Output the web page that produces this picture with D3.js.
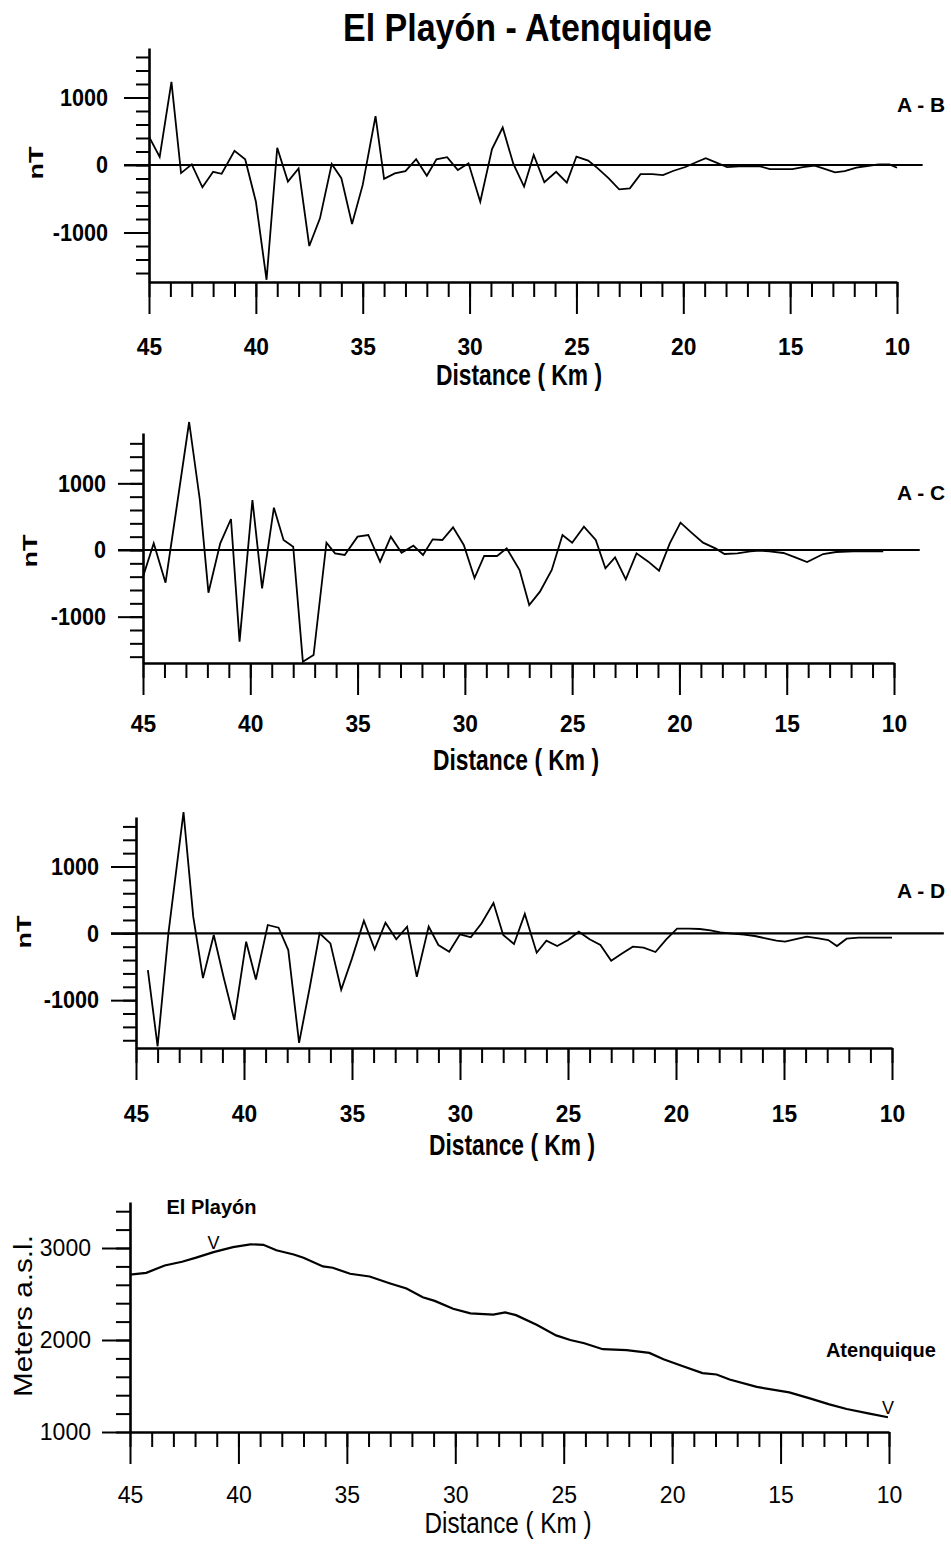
<!DOCTYPE html>
<html>
<head>
<meta charset="utf-8">
<script src="https://d3js.org/d3.v7.min.js"></script>
<style>
  body { margin: 0; background: #fff; }
  svg text { font-family: "Liberation Sans", Arial, sans-serif; fill: #000; }
</style>
</head>
<body>
<svg id="chart" width="951" height="1544"></svg>
<script>
// ---- data ----
const abDist = [45, 44.5, 43.95, 43.5, 43, 42.5, 42, 41.6, 41, 40.5, 40, 39.5, 39, 38.5, 38, 37.5, 37, 36.45, 36, 35.5,
  35, 34.4, 34, 33.5, 33, 32.5, 32, 31.55, 31.05, 30.55, 30.05, 29.5, 28.95, 28.45, 27.95, 27.45, 27, 26.5, 25.95, 25.45,
  25, 24.45, 24, 23.5, 23, 22.5, 22, 21.45, 20.95, 20.45, 19.9, 19.4, 18.95, 18.45, 17.95, 17.4, 16.9, 16.4, 15.95, 15.4,
  14.9, 14.4, 13.85, 13.35, 12.9, 12.45, 11.9, 11.4, 10.85, 10.35, 10];
const abNT = [420, 120, 1230, -120, 10, -330, -100, -130, 210, 85, -540, -1700, 255, -245, -50, -1200, -790, 15, -195, -875,
  -295, 725, -205, -125, -90, 85, -160, 85, 115, -75, 25, -545, 235, 555, 15, -320, 150, -255, -100, -260,
  125, 65, -50, -195, -360, -345, -135, -135, -150, -85, -30, 40, 100, 35, -30, -20, -20, -20, -60, -60,
  -60, -30, -10, -60, -110, -90, -40, -15, 10, 10, -40];

const acDist = [45, 44.5, 43.95, 43.45, 42.85, 42.35, 41.95, 41.4, 40.9, 40.5, 39.9, 39.45, 38.9, 38.45, 38, 37.55, 37.05, 36.45, 36.05, 35.6,
  35, 34.5, 33.95, 33.45, 32.95, 32.4, 31.95, 31.5, 31.05, 30.55, 30.05, 29.55, 29.1, 28.5, 28.05, 27.45, 27, 26.5, 25.95, 25.45,
  25, 24.45, 23.9, 23.45, 23, 22.5, 22, 21.45, 20.95, 20.45, 19.95, 19.4, 18.9, 18.3, 17.9, 17.3, 16.7, 16.25, 15.8, 15.15,
  14.6, 14.05, 13.3, 12.7, 11.9, 11.1, 10.5];
const acNT = [-400, 100, -490, 600, 1920, 750, -640, 100, 465, -1375, 750, -575, 635, 150, 50, -1675, -1575, 110, -50, -75,
  200, 225, -175, 200, -40, 65, -75, 160, 150, 340, 75, -420, -90, -90, 25, -300, -825, -625, -300, 225,
  110, 350, 150, -275, -110, -440, -50, -175, -310, 100, 410, 250, 110, 20, -60, -50, -20, -10, -20, -45,
  -110, -180, -60, -30, -20, -20, -20];

const adDist = [44.45, 44, 43.5, 42.8, 42.35, 41.9, 41.4, 40.95, 40.45, 39.9, 39.45, 38.9, 38.4, 37.95, 37.45, 36.95, 36.5, 36, 35.5, 35,
  34.45, 33.95, 33.45, 32.95, 32.45, 32, 31.45, 31, 30.5, 30, 29.5, 29, 28.45, 28, 27.5, 27, 26.45, 26, 25.5, 25,
  24.5, 24, 23.5, 23, 22.5, 22, 21.5, 20.95, 20.45, 19.95, 19.4, 18.9, 18.4, 17.95, 17.4, 16.85, 16.35, 15.85, 15.35, 14.95,
  14.5, 13.95, 13.4, 12.95, 12.55, 12.1, 11.55, 11, 10.45, 10];
const adNT = [-550, -1690, 0, 1815, 250, -670, -25, -650, -1295, -125, -690, 125, 85, -250, -1640, -800, 0, -150, -845, -375,
  190, -240, 160, -90, 100, -650, 100, -175, -275, -15, -60, 150, 455, -25, -160, 290, -290, -110, -190, -100,
  25, -90, -175, -410, -300, -200, -215, -280, -90, 70, 70, 65, 45, 15, -5, -20, -40, -75, -110, -125,
  -90, -50, -75, -100, -190, -80, -65, -65, -65, -65];

const elevDist = [45, 44.25, 43.4, 42.6, 41.95, 41.15, 40.25, 39.45, 38.85, 38.25, 37.45, 37, 36.1, 35.65, 34.85, 33.95, 33, 32.25, 31.5, 30.95,
  30.1, 29.3, 28.25, 27.7, 27.2, 26.25, 25.35, 24.7, 24.05, 23.2, 22.1, 21.05, 20.4, 19.5, 18.6, 17.95, 17.35, 16.1, 14.6, 13.65,
  12.75, 11.95, 10.9, 10.05];
const elevM = [2710, 2730, 2810, 2850, 2895, 2955, 3010, 3040, 3035, 2975, 2930, 2895, 2800, 2785, 2720, 2690, 2615, 2560, 2465, 2425,
  2340, 2290, 2275, 2300, 2270, 2165, 2050, 2000, 1965, 1900, 1890, 1860, 1790, 1715, 1640, 1625, 1570, 1490, 1430, 1365,
  1300, 1250, 1200, 1160];

const placeNames = ["El Playón", "Atenquique"];
const placeKm = [41.15, 10.05];
const placeElev = [2955, 1160];

const distTicks = [45, 40, 35, 30, 25, 20, 15, 10];
const distMinor = d3.range(10, 46, 1);
const nTTicks = [-1000, 0, 1000];
const nTMinor = d3.range(-1600, 1601, 200);
const elevTicks = [1000, 2000, 3000];
const elevMinor = d3.range(1000, 3401, 200);

const svg = d3.select("svg#chart");
svg.append("rect").attr("width", 951).attr("height", 1544).attr("fill", "#fff");

// title
svg.append("text")
  .attr("x", 343).attr("y", 41)
  .attr("textLength", 369).attr("lengthAdjust", "spacingAndGlyphs")
  .style("font-size", "38px").style("font-weight", "bold")
  .text("El Playón - Atenquique");

// plain hyphen for negatives, like the original
const fmt = d => String(d);

function drawFrame(x, y, o) {
  const g = svg.append("g");
  const yBase = y.range()[0];
  const xBase = x.range()[0];

  // minor ticks
  g.append("g").attr("transform", `translate(0,${yBase})`)
    .call(d3.axisBottom(x).tickValues(distMinor).tickSize(15).tickSizeOuter(0).tickFormat(""))
    .call(a => a.select(".domain").remove());
  g.append("g").attr("transform", `translate(${xBase},0)`)
    .call(d3.axisLeft(y).tickValues(o.yMinor).tickSize(o.minorLen).tickSizeOuter(0).tickFormat(""))
    .call(a => a.select(".domain").remove());

  // major ticks with labels
  const xa = g.append("g").attr("transform", `translate(0,${yBase})`)
    .call(d3.axisBottom(x).tickValues(distTicks).tickSize(32).tickSizeOuter(0).tickFormat(fmt));
  xa.selectAll("text")
    .attr("y", o.xLabTop).attr("dy", "0.71em")
    .attr("transform", `scale(${o.xk},1)`)
    .style("font-size", o.xFont + "px").style("font-weight", o.weight);

  const ya = g.append("g").attr("transform", `translate(${xBase},0)`)
    .call(d3.axisLeft(y).tickValues(o.yTicks).tickSize(o.majorLen).tickSizeOuter(0).tickFormat(fmt));
  ya.selectAll("text")
    .attr("x", -o.yGap / o.yk)
    .attr("transform", `scale(${o.yk},1)`)
    .style("font-size", o.yFont + "px").style("font-weight", o.weight);

  g.selectAll(".domain").attr("stroke", "#000").attr("stroke-width", 2.6);
  g.selectAll(".tick line").attr("stroke", "#000").attr("stroke-width", 2);

  // axis titles
  svg.append("text")
    .attr("x", o.titleX).attr("y", o.titleY)
    .attr("text-anchor", "middle")
    .attr("textLength", o.titleLen).attr("lengthAdjust", "spacingAndGlyphs")
    .style("font-size", o.titleFont + "px").style("font-weight", o.weight)
    .text("Distance ( Km )");

  svg.append("text")
    .attr("transform", `translate(${o.ylabX},${o.ylabY}) rotate(-90)`)
    .attr("text-anchor", "middle").attr("dominant-baseline", "central")
    .attr("textLength", o.ylabLen).attr("lengthAdjust", "spacingAndGlyphs")
    .style("font-size", o.ylabFont + "px").style("font-weight", o.weight)
    .text(o.ylab);
}

const panels = [
  { dist: abDist, vals: abNT, name: "A - B", xr: [149, 897], yr: [282, 48], dom: [-1733, 1733], zeroEnd: 8.8,
    nameY: 112, ylabX: 35, ylabY: 163, titleX: 519, titleY: 385, xLabTop: 56, yGap: 41 },
  { dist: acDist, vals: acNT, name: "A - C", xr: [143, 894], yr: [663, 433], dom: [-1695, 1755], zeroEnd: 8.8,
    nameY: 500, ylabX: 29, ylabY: 551, titleX: 516, titleY: 770, xLabTop: 52, yGap: 37 },
  { dist: adDist, vals: adNT, name: "A - D", xr: [136, 892], yr: [1048, 817], dom: [-1716, 1741], zeroEnd: 7.6,
    nameY: 898, ylabX: 23, ylabY: 932, titleX: 512, titleY: 1155, xLabTop: 57, yGap: 37 }
];

panels.forEach(p => {
  const x = d3.scaleLinear().domain([45, 10]).range(p.xr);
  const y = d3.scaleLinear().domain(p.dom).range(p.yr);

  drawFrame(x, y, {
    yMinor: nTMinor, yTicks: nTTicks, minorLen: 13, majorLen: 25,
    xLabTop: p.xLabTop, xk: 0.95, xFont: 24, yGap: p.yGap, yk: 0.9, yFont: 24, weight: "bold",
    titleX: p.titleX, titleY: p.titleY, titleLen: 166, titleFont: 29,
    ylab: "nT", ylabX: p.ylabX, ylabY: p.ylabY, ylabLen: 33, ylabFont: 21
  });

  // zero reference line
  svg.append("line")
    .attr("x1", p.xr[0] - 25).attr("x2", x(p.zeroEnd))
    .attr("y1", y(0)).attr("y2", y(0))
    .attr("stroke", "#000").attr("stroke-width", 2.2);

  svg.append("path")
    .datum(d3.zip(p.dist, p.vals))
    .attr("fill", "none").attr("stroke", "#000").attr("stroke-width", 1.8)
    .attr("stroke-linejoin", "miter")
    .attr("d", d3.line().x(d => x(d[0])).y(d => y(d[1])));

  svg.append("text")
    .attr("x", 945).attr("y", p.nameY)
    .attr("text-anchor", "end")
    .attr("textLength", 48).attr("lengthAdjust", "spacingAndGlyphs")
    .style("font-size", "21px").style("font-weight", "bold")
    .text(p.name);
});

// elevation profile
const xE = d3.scaleLinear().domain([45, 10]).range([130, 889]);
const yE = d3.scaleLinear().domain([1000, 3500]).range([1432, 1202]);

drawFrame(xE, yE, {
  yMinor: elevMinor, yTicks: elevTicks, minorLen: 14, majorLen: 28,
  xLabTop: 55, xk: 1, xFont: 23, yGap: 39, yk: 1, yFont: 23, weight: "normal",
  titleX: 508, titleY: 1533, titleLen: 167, titleFont: 29,
  ylab: "Meters a.s.l.", ylabX: 23, ylabY: 1316, ylabLen: 162, ylabFont: 26
});

svg.append("path")
  .datum(d3.zip(elevDist, elevM))
  .attr("fill", "none").attr("stroke", "#000").attr("stroke-width", 2.2)
  .attr("d", d3.line().x(d => xE(d[0])).y(d => yE(d[1])));

// place markers
const labelOffsets = [[-2, -38, 90], [-7, -60, 110]];
placeNames.forEach((n, i) => {
  const px = xE(placeKm[i]), py = yE(placeElev[i]);
  svg.append("text")
    .attr("x", px).attr("y", py - 3)
    .attr("text-anchor", "middle")
    .style("font-size", "18px")
    .text("V");
  svg.append("text")
    .attr("x", px + labelOffsets[i][0]).attr("y", py + labelOffsets[i][1])
    .attr("text-anchor", "middle")
    .attr("textLength", labelOffsets[i][2]).attr("lengthAdjust", "spacingAndGlyphs")
    .style("font-size", "20px").style("font-weight", "bold")
    .text(n);
});
</script>
</body>
</html>
